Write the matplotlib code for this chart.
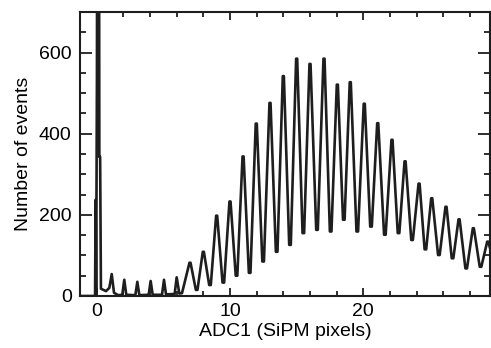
import matplotlib
matplotlib.use("agg")
import matplotlib.pyplot as plt
from matplotlib.ticker import MultipleLocator

plt.rcParams['font.family'] = ['Liberation Sans', 'DejaVu Sans']
plt.rcParams['xtick.direction'] = 'in'
plt.rcParams['ytick.direction'] = 'in'

# pedestal and single-pixel region, traced point by point
low_adc = [-1.25, -0.12, -0.08, -0.04, 0.02, 0.06, 0.16, 0.2, 0.26, 0.32, 0.7, 0.95,
           1.13, 1.3, 1.6, 1.92, 2.07, 2.22, 2.9, 3.05, 3.2, 3.9, 4.05, 4.2,
           4.9, 5.05, 5.2, 5.85, 6.0, 6.2, 6.4]
low_counts = [0, 0, 237, 5, 545, 1500, 1500, 343, 343, 18, 12, 20,
              54, 8, 2, 3, 40, 3, 2, 35, 2, 3, 37, 3,
              3, 40, 4, 5, 46, 6, 7]

# photo-electron peaks 7..29
peak_adc = [7.0, 8.0, 9.0, 10.0, 10.98, 11.97, 13.0, 14.0, 15.0, 16.0, 17.05, 18.05,
            19.02, 20.07, 21.08, 22.15, 23.13, 24.18, 25.13, 26.2, 27.18, 28.25, 29.33]
peak_counts = [82, 109, 198, 233, 344, 425, 476, 542, 585, 572, 585, 521,
               527, 474, 426, 385, 332, 277, 241, 220, 189, 167, 134]
# minima following each peak (last one is the value at the right edge)
valley_counts = [15, 27, 33, 50, 57, 85, 109, 126, 155, 163, 159, 188,
                 159, 171, 151, 155, 138, 115, 101, 93, 68, 72, 118]

adc = list(low_adc)
counts = list(low_counts)
for i, (px, pc) in enumerate(zip(peak_adc, peak_counts)):
    adc += [px - 0.04, px + 0.04]
    counts += [pc, pc]
    if i + 1 < len(peak_adc):
        mid = (px + peak_adc[i + 1]) / 2
        adc += [mid - 0.06, mid + 0.06]
        counts += [valley_counts[i], valley_counts[i]]
    else:
        adc.append(29.5)
        counts.append(valley_counts[i])

fig = plt.figure(figsize=(4.91, 3.48), dpi=100)
ax = fig.add_axes([80 / 491, 52 / 348, 410 / 491, 284 / 348])
ax.plot(adc, counts, color="#1e1e1e", lw=1.9, solid_joinstyle="round")

ax.set_xlim(-1.25, 29.5)
ax.set_ylim(0, 700)
ax.xaxis.set_major_locator(MultipleLocator(10))
ax.xaxis.set_minor_locator(MultipleLocator(2))
ax.yaxis.set_major_locator(MultipleLocator(200))
ax.yaxis.set_minor_locator(MultipleLocator(50))
ax.tick_params(which="both", top=True, right=True, labelsize=14, width=1.3, color="#1e1e1e")
ax.tick_params(axis="x", which="major", length=5.8, pad=5)
ax.tick_params(axis="x", which="minor", length=3.6)
ax.tick_params(axis="y", which="major", length=8.6, pad=6)
ax.tick_params(axis="y", which="minor", length=4.3)
for s in ax.spines.values():
    s.set_linewidth(1.5)
    s.set_color("#1e1e1e")

ax.set_xlabel("ADC1 (SiPM pixels)", fontsize=14, labelpad=2)
ax.set_ylabel("Number of events", fontsize=14, labelpad=5)

plt.savefig("out.png", dpi=100)
